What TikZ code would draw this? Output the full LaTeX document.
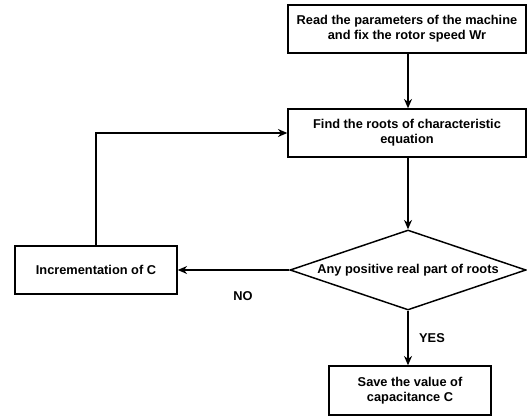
\documentclass[tikz,border=0pt]{standalone}
\usepackage{fontspec}
\setmainfont{Liberation Sans}
\usetikzlibrary{shapes.geometric,arrows.meta}
\begin{document}
\begin{tikzpicture}[x=0.75pt,y=-0.75pt,
  every node/.style={font=\bfseries\fontsize{9.6pt}{11.5pt}\selectfont, align=center},
  box/.style={draw, line width=1.1pt, inner sep=0pt},
  conn/.style={line width=1.1pt, -{Stealth[length=7pt,width=6pt]}},
  lbl/.style={inner sep=0pt}]
\useasboundingbox (0,0) rectangle (527,417);
\node[box, minimum width=238*0.75pt, minimum height=48*0.75pt] (read) at (407,29) {Read the parameters of the machine\\and fix the rotor speed Wr};
\node[box, minimum width=238*0.75pt, minimum height=48*0.75pt] (find) at (407,133) {Find the roots of characteristic\\equation};
\node[draw, line width=1.1pt, diamond, aspect=2.95, minimum width=236*0.75pt, minimum height=80*0.75pt, inner sep=0pt] (dec) at (408,270) {};
\node (dectext) at (408,270) {Any positive real part of roots};
\node[box, minimum width=162*0.75pt, minimum height=48*0.75pt] (inc) at (96,270) {Incrementation of C};
\node[box, minimum width=162*0.75pt, minimum height=49*0.75pt] (save) at (410,390.5) {Save the value of\\capacitance C};
\node[lbl] (no) at (243,296) {NO};
\node[lbl] (yes) at (432,338) {YES};
\coordinate (corner) at (96,133);
\draw[conn] (read.south -| dec.north) -- (find.north -| dec.north);
\draw[conn] (find.south -| dec.north) -- (dec.north);
\draw[conn] (dec.west) -- (inc.east);
\draw[conn] (dec.south) -- (dec.south |- save.north);
\draw[conn] (inc.north) -- (corner) -- (find.west);
\end{tikzpicture}
\end{document}
